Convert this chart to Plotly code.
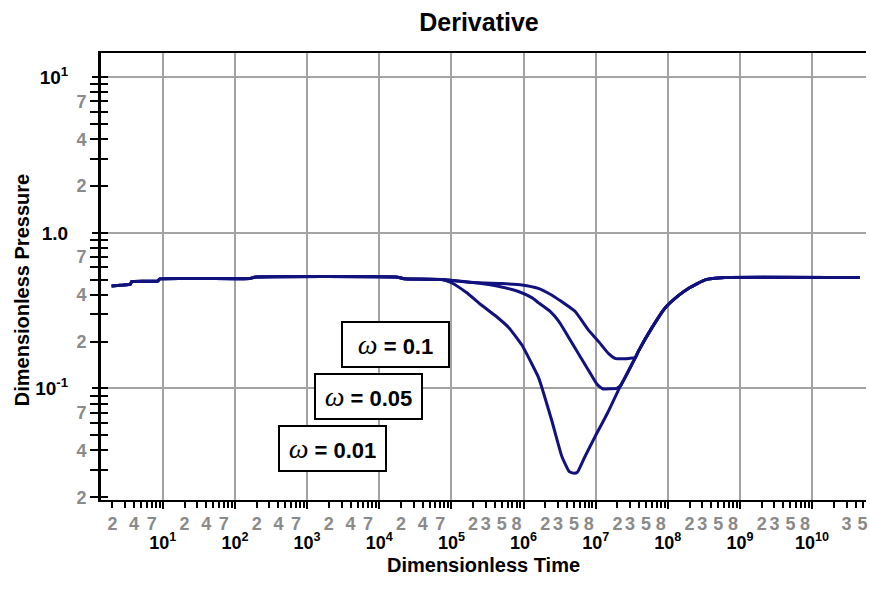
import plotly.graph_objects as go

# dimensionless time / derivative values
t_early = [1.95, 2.8, 3.55, 3.7, 8.5, 9.1, 160, 186, 1.8e4, 2.2e4, 7.4e4]
pd_early = [0.456, 0.462, 0.468, 0.486, 0.49, 0.506, 0.508, 0.519, 0.519, 0.507, 0.502]

t_w001 = [1.0e5, 1.6e5, 2.6e5, 4.2e5, 6.3e5, 9.5e5, 1.32e6, 1.62e6, 2.45e6, 3.4e6,
          4.3e6, 5.0e6, 5.6e6, 7.0e6, 9.8e6, 1.45e7, 2.1e7, 3.55e7]
pd_w001 = [0.478, 0.415, 0.344, 0.29, 0.245, 0.19, 0.142, 0.117, 0.0627, 0.0365,
           0.0292, 0.0285, 0.029, 0.036, 0.049, 0.069, 0.099, 0.158]

t_w005 = [2.0e5, 4.6e5, 8.5e5, 1.32e6, 1.62e6, 2.3e6, 3.1e6, 4.7e6, 7.9e6, 1.05e7,
          1.25e7, 1.6e7, 1.95e7, 2.2e7, 3.55e7]
pd_w005 = [0.479, 0.452, 0.42, 0.382, 0.355, 0.315, 0.269, 0.196, 0.1315, 0.106,
           0.0995, 0.0995, 0.1, 0.104, 0.158]

t_w01 = [2.0e5, 5.0e5, 9.5e5, 1.6e6, 2.45e6, 3.1e6, 5.2e6, 7.9e6, 1.1e7, 1.5e7,
         1.86e7, 2.4e7, 2.9e7, 3.55e7]
pd_w01 = [0.479, 0.472, 0.463, 0.44, 0.399, 0.371, 0.312, 0.238, 0.2, 0.168,
          0.156, 0.155, 0.156, 0.158]

t_late = [3.9e7, 6.0e7, 9.1e7, 1.4e8, 1.95e8, 3.3e8, 6.2e8, 4.6e10]
pd_late = [0.173, 0.245, 0.328, 0.395, 0.441, 0.499, 0.516, 0.516]

omega_labels = ["0.1", "0.05", "0.01"]

# tick labels
x_minor_vals = [2, 4, 7, 20, 40, 70, 200, 400, 700, 2e3, 4e3, 7e3, 2e4, 4e4, 7e4,
                2e5, 3e5, 5e5, 8e5, 2e6, 3e6, 5e6, 8e6, 2e7, 3e7, 5e7, 8e7,
                2e8, 3e8, 5e8, 8e8, 2e9, 3e9, 5e9, 8e9, 3e10, 5e10]
x_minor_text = ["2", "4", "7"] * 5 + ["2", "3", "5", "8"] * 5 + ["3", "5"]
x_major_vals = [10 ** k for k in range(1, 11)]
x_major_text = ["10<sup>%d</sup>" % k for k in range(1, 11)]

y_minor_vals = [0.02, 0.04, 0.07, 0.2, 0.4, 0.7, 2, 4, 7]
y_minor_text = ["2", "4", "7"] * 3
y_major_vals = [0.1, 1, 10]
y_major_text = ["10<sup>-1</sup>", "1.0", "10<sup>1</sup>"]

all_minor_x = [m * 10 ** k for k in range(0, 11) for m in range(2, 10)]
all_minor_y = [m * 10.0 ** k for k in range(-2, 1) for m in range(2, 10)]

line_col = "#12127f"
grid_col = "#a3a3a3"
grey_txt = "#8a8a8a"
fam = "Arial, Liberation Sans"

fig = go.Figure()
for tw, pw in [(t_w01, pd_w01), (t_w005, pd_w005), (t_w001, pd_w001)]:
    fig.add_trace(go.Scatter(x=t_early + tw + t_late, y=pd_early + pw + pd_late,
                             mode="lines", line=dict(color=line_col, width=3,
                                                     shape="spline", smoothing=0.4),
                             showlegend=False, hoverinfo="skip"))

# invisible traces so the overlay axes get drawn
fig.add_trace(go.Scatter(x=[1e3], y=[1], xaxis="x2", yaxis="y2", mode="markers",
                         marker=dict(opacity=0), showlegend=False, hoverinfo="skip"))
fig.add_trace(go.Scatter(x=[1e3], y=[1], xaxis="x", yaxis="y3", mode="markers",
                         marker=dict(opacity=0), showlegend=False, hoverinfo="skip"))

xrange = [0.143, 10.747]
yrange = [-1.717, 1.156]
tick_common = dict(tickwidth=2, tickcolor="black", zeroline=False)

fig.update_layout(
    width=870, height=592,
    margin=dict(l=101, r=2, t=53, b=92),
    plot_bgcolor="white", paper_bgcolor="white",
    font=dict(family=fam, color="black"),
    title=dict(text="<b>Derivative</b>", x=479 / 870, xanchor="center",
               y=1 - 22 / 592, yanchor="middle", font=dict(size=25)),
    xaxis=dict(type="log", range=xrange, showgrid=False,
               showline=True, linecolor="black", linewidth=2, mirror=True,
               tickmode="array", tickvals=x_minor_vals, ticktext=x_minor_text,
               ticks="outside", ticklen=6,
               tickfont=dict(size=18, color=grey_txt, weight="bold"),
               ticklabelstandoff=0,
               minor=dict(tickmode="array", tickvals=all_minor_x, ticks="outside",
                          ticklen=6, tickwidth=2, tickcolor="black", showgrid=False),
               **tick_common),
    xaxis2=dict(type="log", range=xrange, overlaying="x", side="bottom", anchor="y2",
                showgrid=True, gridcolor=grid_col, gridwidth=2,
                tickmode="array", tickvals=x_major_vals, ticktext=x_major_text,
                ticks="outside", ticklen=8,
                tickfont=dict(size=18, color="black", weight="bold"),
                ticklabelstandoff=18, **tick_common),
    yaxis=dict(type="log", range=yrange, showgrid=False,
               showline=True, linecolor="black", linewidth=3,
               tickmode="array", tickvals=y_minor_vals, ticktext=y_minor_text,
               ticks="outside", ticklen=8,
               tickfont=dict(size=18, color=grey_txt, weight="bold"),
               minor=dict(tickmode="array", tickvals=all_minor_y, ticks="outside",
                          ticklen=8, tickwidth=2, tickcolor="black", showgrid=False),
               **tick_common),
    yaxis2=dict(type="log", range=yrange, overlaying="y", side="left", anchor="x2",
                showgrid=True, gridcolor=grid_col, gridwidth=2,
                tickmode="array", tickvals=y_major_vals, ticktext=y_major_text,
                ticks="outside", ticklen=8,
                tickfont=dict(size=19, color="black", weight="bold"),
                ticklabelstandoff=20, **tick_common),
    yaxis3=dict(type="log", range=yrange, overlaying="y", side="left", anchor="x",
                showgrid=False, showticklabels=False,
                tickmode="array", tickvals=y_major_vals, ticks="inside", ticklen=7,
                minor=dict(tickmode="array", tickvals=all_minor_y, ticks="inside",
                           ticklen=7, tickwidth=2, tickcolor="black", showgrid=False),
                **tick_common),
)

# omega boxes, centres in data (log) coordinates
box_pos = [(4.228, -0.717), (3.848, -1.051), (3.350, -1.389)]
for (bx, by), lab in zip(box_pos, omega_labels):
    fig.add_annotation(
        x=bx, y=by, xref="x", yref="y", showarrow=False,
        text="<span style='font-family:Liberation Serif;font-style:italic;font-size:28px'>ω</span>"
             "<b> = %s</b>" % lab,
        font=dict(size=22, color="black"),
        width=103, height=41, bgcolor="white",
        bordercolor="black", borderwidth=2, borderpad=1)

# axis titles, placed in plot-area fractions
fig.add_annotation(x=(484 - 101) / 767, y=(500 - 565) / 447, xref="paper", yref="paper",
                   text="<b>Dimensionless Time</b>", showarrow=False,
                   font=dict(size=20), xanchor="center", yanchor="middle")
fig.add_annotation(x=(22 - 101) / 767, y=(500 - 290) / 447, xref="paper", yref="paper",
                   text="<b>Dimensionless Pressure</b>", showarrow=False, textangle=-90,
                   font=dict(size=20), xanchor="center", yanchor="middle")

fig.write_html("out.html", config={"displayModeBar": False},
               post_script="document.body.style.margin='0';")
